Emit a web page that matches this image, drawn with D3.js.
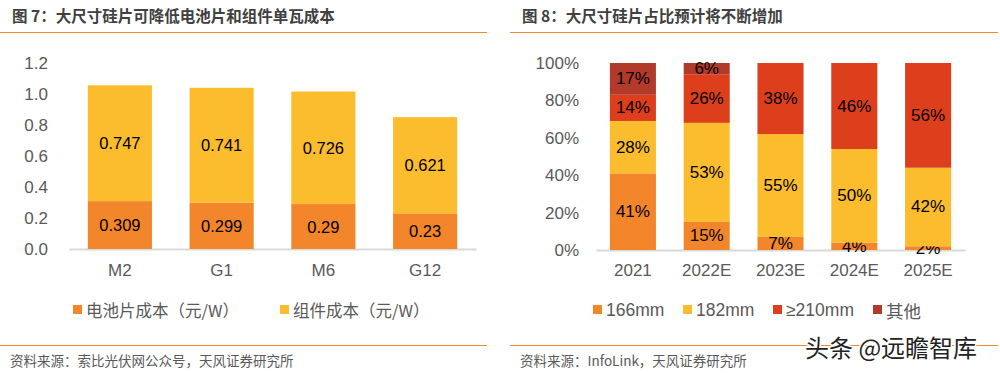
<!DOCTYPE html>
<html>
<head>
<meta charset="utf-8">
<script src="https://cdn.jsdelivr.net/npm/d3@7"></script>
<style>
  body { margin: 0; background: #fff; }
  svg { display: block; font-family: "Liberation Sans", Arial, "Noto Sans CJK SC", sans-serif; }
</style>
</head>
<body>
<svg id="chart" width="1000" height="373"></svg>
<script>
// ---- left chart data ----
const wafers = ["M2", "G1", "M6", "G12"];
const cellCost = [0.309, 0.299, 0.29, 0.23];
const moduleCost = [0.747, 0.741, 0.726, 0.621];
const leftTicks = [0, 0.2, 0.4, 0.6, 0.8, 1.0, 1.2];
const leftSeries = ["电池片成本（元/W）", "组件成本（元/W）"];

// ---- right chart data ----
const years = ["2021", "2022E", "2023E", "2024E", "2025E"];
const share166 = [41, 15, 7, 4, 2];
const share182 = [28, 53, 55, 50, 42];
const share210 = [14, 26, 38, 46, 56];
const shareOther = [17, 6, 0, 0, 0];
const rightTicks = [0, 20, 40, 60, 80, 100];
const rightSeries = ["166mm", "182mm", "≥210mm", "其他"];

const orange = "#F3852A", yellow = "#FBBC2D", red = "#DD3E1B", darkRed = "#B23A2B";
const cjk = '"Noto Sans CJK SC", "Liberation Sans", sans-serif';
const latin = '"Liberation Sans", Arial, sans-serif';

const svg = d3.select("#chart");

// headers, rules and sources
function frame(x0, x1, title, source) {
  svg.append("text").attr("x", x0 + 12).attr("y", 22)
    .attr("font-family", cjk).attr("font-weight", "bold").attr("font-size", 15.5)
    .attr("fill", "#404040").text(title);
  svg.append("line").attr("x1", x0).attr("x2", x1).attr("y1", 32.5).attr("y2", 32.5)
    .attr("stroke", "#F08A2C").attr("stroke-width", 1.2);
  svg.append("line").attr("x1", x0).attr("x2", x1).attr("y1", 345.5).attr("y2", 345.5)
    .attr("stroke", "#F08A2C").attr("stroke-width", 1.2);
  svg.append("text").attr("x", x0 + 10).attr("y", 366)
    .attr("font-family", cjk).attr("font-size", 13.5)
    .attr("fill", "#595959").text(source);
}
frame(0, 487, "图 7：大尺寸硅片可降低电池片和组件单瓦成本", "资料来源：索比光伏网公众号，天风证券研究所");
frame(510, 998, "图 8：大尺寸硅片占比预计将不断增加", "资料来源：InfoLink，天风证券研究所");

function styleAxis(a) {
  a.selectAll("text").attr("font-size", 17).attr("fill", "#595959").attr("font-family", latin);
}

// ---- left chart ----
{
  const x = d3.scaleBand().domain(wafers).range([69, 476]).paddingInner(0.37).paddingOuter(0.185);
  const y = d3.scaleLinear().domain([0, 1.2]).range([249, 63]);
  const g = svg.append("g");

  const yAxis = g.append("g").attr("transform", "translate(51,0)")
    .call(d3.axisLeft(y).tickValues(leftTicks).tickFormat(d3.format(".1f")).tickSize(0));
  yAxis.select(".domain").remove();
  styleAxis(yAxis);

  const xAxis = g.append("g").attr("transform", "translate(0,249)")
    .call(d3.axisBottom(x).tickSize(0).tickPadding(15));
  xAxis.select(".domain").attr("stroke", "#d9d9d9").attr("stroke-width", 2);
  styleAxis(xAxis);

  const stacks = [cellCost, moduleCost];
  const colors = [orange, yellow];
  wafers.forEach((w, i) => {
    let base = 0;
    stacks.forEach((s, k) => {
      const v = s[i];
      g.append("rect").attr("x", x(w)).attr("width", x.bandwidth())
        .attr("y", y(base + v)).attr("height", y(base) - y(base + v))
        .attr("fill", colors[k]);
      g.append("text").attr("x", x(w) + x.bandwidth() / 2).attr("y", y(base + v / 2))
        .attr("text-anchor", "middle").attr("dominant-baseline", "central")
        .attr("font-size", 16.5).attr("fill", "#000").text(v);
      base += v;
    });
  });

  const legX = [73, 280];
  leftSeries.forEach((name, k) => {
    g.append("rect").attr("x", legX[k]).attr("y", 305).attr("width", 9).attr("height", 9).attr("fill", colors[k]);
    g.append("text").attr("x", legX[k] + 13).attr("y", 310).attr("dominant-baseline", "central")
      .attr("font-family", cjk).attr("font-size", 16.5).attr("fill", "#595959").text(name);
  });
}

// ---- right chart ----
{
  const x = d3.scaleBand().domain(years).range([596, 965]).paddingInner(0.376).paddingOuter(0.188);
  const y = d3.scaleLinear().domain([0, 100]).range([250, 63]);
  const g = svg.append("g");

  const yAxis = g.append("g").attr("transform", "translate(582,0)")
    .call(d3.axisLeft(y).tickValues(rightTicks).tickFormat(d => d + "%").tickSize(0));
  yAxis.select(".domain").remove();
  styleAxis(yAxis);

  const xAxis = g.append("g").attr("transform", "translate(0,250)")
    .call(d3.axisBottom(x).tickSize(0).tickPadding(14));
  xAxis.select(".domain").attr("stroke", "#d9d9d9").attr("stroke-width", 2);
  styleAxis(xAxis);

  const stacks = [share166, share182, share210, shareOther];
  const colors = [orange, yellow, red, darkRed];
  years.forEach((yr, i) => {
    let base = 0;
    stacks.forEach((s, k) => {
      const v = s[i];
      if (!v) return;
      g.append("rect").attr("x", x(yr)).attr("width", x.bandwidth())
        .attr("y", y(base + v)).attr("height", y(base) - y(base + v))
        .attr("fill", colors[k]);
      g.append("text").attr("x", x(yr) + x.bandwidth() / 2).attr("y", y(base + v / 2))
        .attr("text-anchor", "middle").attr("dominant-baseline", "central")
        .attr("font-size", 17).attr("fill", "#000").text(v + "%");
      base += v;
    });
  });

  const legX = [593, 683, 773, 873];
  rightSeries.forEach((name, k) => {
    g.append("rect").attr("x", legX[k]).attr("y", 305).attr("width", 9).attr("height", 9).attr("fill", colors[k]);
    g.append("text").attr("x", legX[k] + 13).attr("y", 310).attr("dominant-baseline", "central")
      .attr("font-family", name === "其他" ? cjk : latin)
      .attr("font-size", 17.5).attr("fill", "#595959").text(name);
  });

  // watermark
  svg.append("text").attr("x", 805).attr("y", 357)
    .attr("font-family", cjk).attr("font-size", 24)
    .attr("fill", "#222").attr("stroke", "#fff").attr("stroke-width", 3)
    .attr("paint-order", "stroke").text("头条 @远瞻智库");
}
</script>
</body>
</html>
